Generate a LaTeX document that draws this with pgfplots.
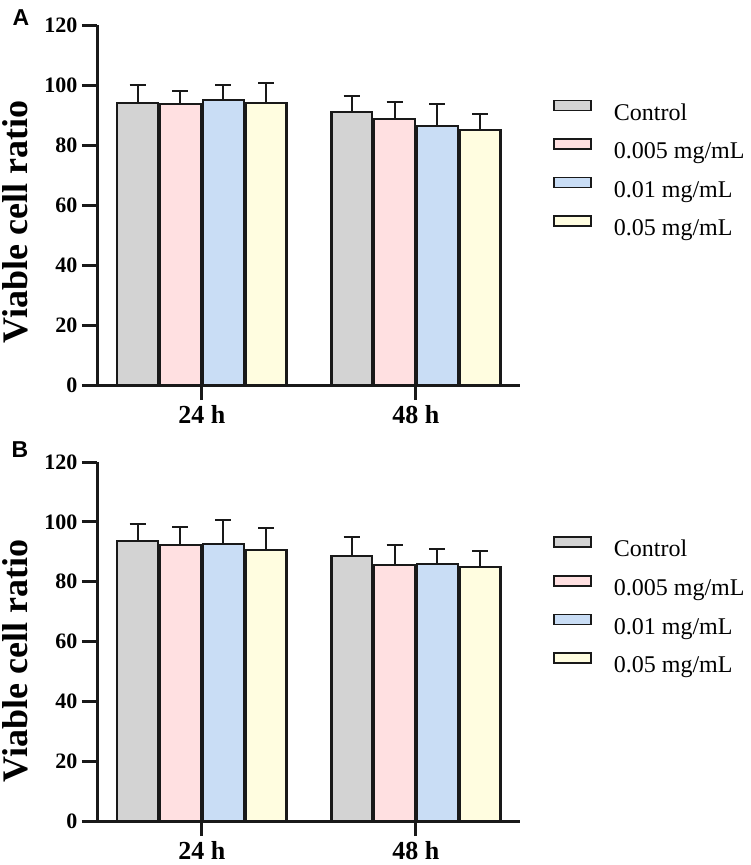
\documentclass[border=0pt]{standalone}
\usepackage{pgfplots}
\pgfplotsset{compat=1.18}
\usepackage{fontspec}
\setmainfont{Liberation Serif}
\newfontfamily\arialfont{Liberation Sans}
\definecolor{cgray}{RGB}{211,211,211}
\definecolor{cpink}{RGB}{255,224,225}
\definecolor{cblue}{RGB}{201,221,245}
\definecolor{cyell}{RGB}{255,253,224}
\definecolor{cline}{RGB}{25,25,25}
\pgfplotsset{
  mybar/.style={ybar, bar width=0.19, bar shift=0pt, draw=cline, line width=2.2pt,
    error bars/.cd, y dir=plus, y explicit,
    error bar style={line width=2pt, cline},
    error mark options={rotate=90, mark size=8pt, line width=2pt, cline},
    /pgfplots/.cd,
    legend image code/.code={\draw[##1, line width=1.6pt] (0pt,4.3pt) rectangle (37pt,14.3pt); \path (59pt,9pt);}},
  myaxis/.style={
    scale only axis, width=423pt,
    xmin=-0.49, xmax=1.486, ymin=0, ymax=120,
    axis lines=left, axis line style={-, line width=3pt, cline},
    xtick={0,1}, xticklabels={24 h,48 h},
    ytick={0,20,...,120},
    tick align=outside, major tick length=15pt,
    tick style={line width=3pt, cline},
    /pgf/number format/assume math mode=true,
    yticklabel style={font=\fontsize{22}{22}\selectfont\bfseries, xshift=-1pt},
    xticklabel style={font=\fontsize{26}{26}\selectfont\bfseries, yshift=-2pt},
    legend style={draw=none, fill=none, at={(1.078,0.793)}, anchor=north west,
      inner sep=0pt, outer sep=0pt, row sep=12pt,
      nodes={inner sep=0pt, text height=17pt, text depth=6pt},
      font=\fontsize{24}{24}\selectfont},
    legend cell align=left,
    clip=false,
  }
}
\begin{document}
\begin{tikzpicture}[x=1pt,y=1pt]
\useasboundingbox (0,0) rectangle (750,-865);
% Panel A
\begin{axis}[myaxis, at={(97pt,-385pt)}, anchor=south west, height=360pt]
\addplot[mybar, fill=cgray] coordinates {(-0.3,94.0) +- (0,6.0) (0.7,90.9) +- (0,5.5)};
\addplot[mybar, fill=cpink] coordinates {(-0.1,93.6) +- (0,4.5) (0.9,88.6) +- (0,5.7)};
\addplot[mybar, fill=cblue] coordinates {(0.1,95.0) +- (0,5.0) (1.1,86.3) +- (0,7.4)};
\addplot[mybar, fill=cyell] coordinates {(0.3,94.0) +- (0,6.6) (1.3,85.0) +- (0,5.2)};
\legend{Control, 0.005 mg/mL, 0.01 mg/mL, 0.05 mg/mL}
\end{axis}
% Panel B
\begin{axis}[myaxis, at={(97pt,-821pt)}, anchor=south west, height=359pt]
\addplot[mybar, fill=cgray] coordinates {(-0.3,93.5) +- (0,5.8) (0.7,88.7) +- (0,6.3)};
\addplot[mybar, fill=cpink] coordinates {(-0.1,92.2) +- (0,6.0) (0.9,85.6) +- (0,6.8)};
\addplot[mybar, fill=cblue] coordinates {(0.1,92.6) +- (0,8.0) (1.1,86.0) +- (0,5.0)};
\addplot[mybar, fill=cyell] coordinates {(0.3,90.5) +- (0,7.3) (1.3,84.8) +- (0,5.5)};
\legend{Control, 0.005 mg/mL, 0.01 mg/mL, 0.05 mg/mL}
\end{axis}
\node[rotate=90, font=\fontsize{36}{36}\selectfont\bfseries] at (15.5,-222) {Viable cell ratio};
\node[rotate=90, font=\fontsize{36}{36}\selectfont\bfseries] at (15.5,-661) {Viable cell ratio};
\node[font=\arialfont\fontsize{23}{23}\selectfont\bfseries] at (21,-18) {A};
\node[font=\arialfont\fontsize{23}{23}\selectfont\bfseries] at (20,-450) {B};
\end{tikzpicture}
\end{document}
